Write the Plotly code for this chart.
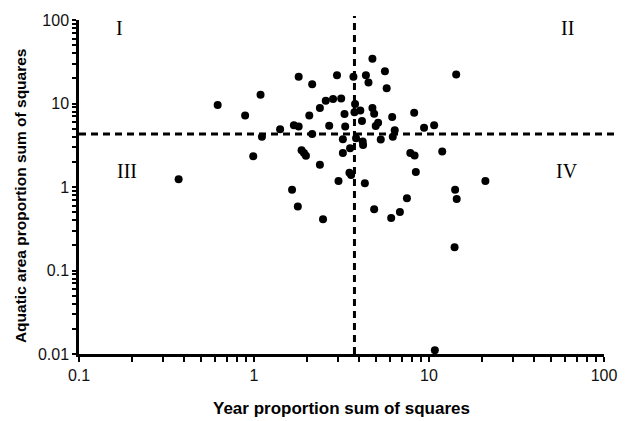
import plotly.graph_objects as go

year_ss = [0.62, 0.89, 1.09, 1.80, 2.15, 2.98, 2.57, 2.83, 3.15, 2.38,
           2.07, 3.29, 1.69, 1.80, 1.41, 2.69, 3.32, 1.11, 2.15, 3.22,
           4.75, 3.70, 4.36, 5.60, 4.51, 5.73, 14.3, 3.78, 4.75, 3.75,
           4.05, 4.86, 6.16, 8.23, 4.14, 5.12, 4.96, 6.37, 9.37, 10.7,
           3.83, 4.18, 4.20, 5.30, 6.21, 0.99, 1.87, 1.93, 1.98, 2.38,
           3.22, 0.371, 3.04, 1.65, 1.78, 2.48, 3.54, 7.82, 8.27, 11.9,
           3.51, 3.59, 4.30, 8.41, 21.0, 14.1, 14.4, 7.48, 4.86, 6.82,
           6.08, 14.0, 10.8]
aquatic_ss = [9.6, 7.2, 12.7, 20.9, 17.0, 21.8, 10.8, 11.3, 11.5, 8.85,
              7.2, 7.5, 5.5, 5.3, 4.9, 5.4, 5.3, 4.0, 4.3, 3.73,
              34.3, 20.9, 21.8, 24.3, 17.8, 15.2, 22.2, 9.86, 8.85, 7.86,
              8.22, 7.52, 6.88, 7.73, 6.18, 5.9, 5.39, 4.78, 5.14, 5.48,
              3.83, 3.5, 3.19, 3.71, 3.99, 2.33, 2.75, 2.55, 2.37, 1.85,
              2.55, 1.24, 1.18, 0.927, 0.585, 0.411, 2.92, 2.55, 2.39, 2.67,
              1.48, 1.39, 1.11, 1.51, 1.18, 0.927, 0.718, 0.733, 0.54, 0.501,
              0.426, 0.19, 0.0111]

x_threshold = 3.75
y_threshold = 4.3
quadrant_labels = ["I", "II", "III", "IV"]
x_title = "Year proportion sum of squares"
y_title = "Aquatic area proportion sum of squares"
x_major = [0.1, 1, 10, 100]
y_major = [0.01, 0.1, 1, 10, 100]

def all_ticks(majors):
    vals, texts = [], []
    for i, d in enumerate(majors):
        vals.append(d)
        texts.append(str(d))
        if i < len(majors) - 1:
            for m in range(2, 10):
                vals.append(round(d * m, 6))
                texts.append("")
    return vals, texts

x_vals, x_text = all_ticks(x_major)
y_vals, y_text = all_ticks(y_major)

fig = go.Figure()
fig.add_trace(go.Scatter(x=year_ss, y=aquatic_ss, mode="markers",
                         marker=dict(color="#000000", size=8),
                         showlegend=False))

tickfont = dict(family="Liberation Sans, Arial", size=16, color="#111111")
fig.update_layout(
    template="simple_white",
    width=629, height=421,
    margin=dict(l=79, r=18, t=14, b=67),
    font=dict(family="Liberation Sans, Arial", color="#000000"),
)
fig.update_xaxes(type="log", range=[-1, 2], tickmode="array",
                 tickvals=x_vals, ticktext=x_text,
                 showgrid=False, zeroline=False, showline=True,
                 linecolor="#000000", linewidth=2.5, ticks="outside",
                 ticklen=5, tickwidth=2, tickcolor="#000000",
                 tickfont=tickfont)
fig.update_yaxes(type="log", range=[-2, 2], tickmode="array",
                 tickvals=y_vals, ticktext=y_text,
                 showgrid=False, zeroline=False, showline=True,
                 linecolor="#000000", linewidth=2.5, ticks="outside",
                 ticklen=4, tickwidth=2, tickcolor="#000000",
                 tickfont=tickfont)

# vertical & horizontal dashed threshold lines
fig.add_shape(type="line", xref="x", yref="paper", x0=x_threshold, x1=x_threshold,
              y0=0, y1=1.012, opacity=1,
              line=dict(color="#000000", width=3, dash="7px,5px"))
fig.add_shape(type="line", xref="paper", yref="y", x0=0, x1=1.026,
              y0=y_threshold, y1=y_threshold, opacity=1,
              line=dict(color="#000000", width=3, dash="7px,5px"))

roman = dict(family="Liberation Serif, Times New Roman", size=20, color="#000000")
pos = [(0.077, 0.975), (0.93, 0.975), (0.092, 0.549), (0.93, 0.549)]
for lab, (px, py) in zip(quadrant_labels, pos):
    fig.add_annotation(text=lab, xref="paper", yref="paper", x=px, y=py,
                       showarrow=False, font=roman, xanchor="center", yanchor="middle")

fig.add_annotation(text="<b>" + x_title + "</b>", xref="paper", yref="paper",
                   x=0.5, y=-0.163, showarrow=False,
                   font=dict(family="Liberation Sans, Arial", size=17, color="#000000"),
                   xanchor="center", yanchor="middle")
fig.add_annotation(text="<b>" + y_title + "</b>", xref="paper", yref="paper",
                   x=-0.111, y=0.475, showarrow=False,
                   font=dict(family="Liberation Sans, Arial", size=15.5, color="#000000"),
                   textangle=-90, xanchor="center", yanchor="middle")

fig.write_html("out.html")
